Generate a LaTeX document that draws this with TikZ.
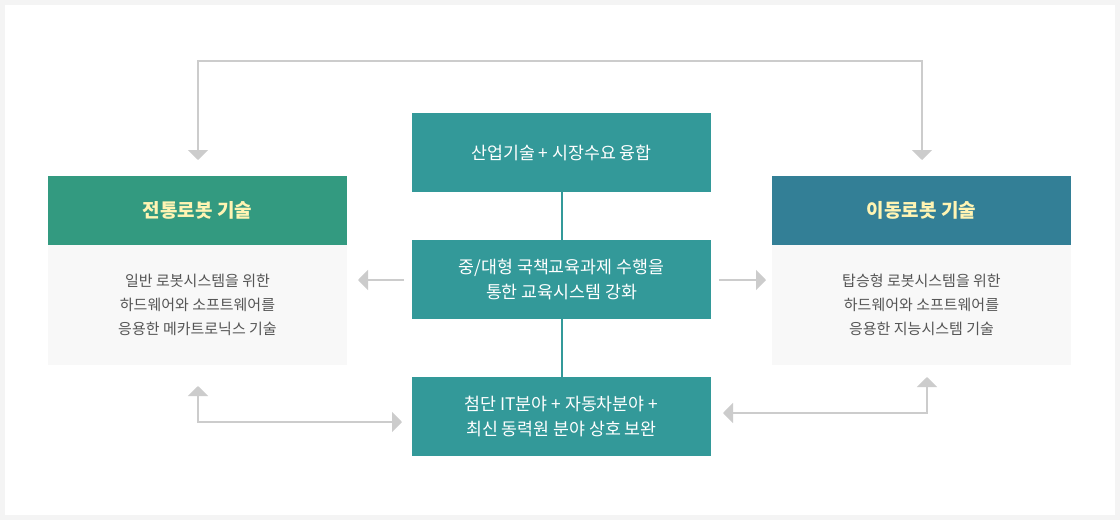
\documentclass[tikz,border=0pt]{standalone}
\usepackage{fontspec}
\setmainfont{Noto Sans CJK KR}
\usetikzlibrary{arrows.meta}
\definecolor{pagegray}{HTML}{F4F4F4}
\definecolor{hdgreen}{HTML}{339A80}
\definecolor{hdblue}{HTML}{337F96}
\definecolor{ctteal}{HTML}{339999}
\definecolor{bodybg}{HTML}{F8F8F8}
\definecolor{bodytxt}{HTML}{555555}
\definecolor{hdtxt}{HTML}{FFF4B3}
\definecolor{arrgray}{HTML}{CCCCCC}
\tikzset{
  hdbox/.style={minimum width=299pt, minimum height=69pt, inner sep=0pt, text=hdtxt,
    font=\fontsize{19}{22}\selectfont\bfseries},
  bodybox/.style={fill=bodybg, minimum width=299pt, minimum height=120pt, inner sep=0pt,
    text=bodytxt, align=center, font=\fontsize{15}{24}\selectfont},
  ctbox/.style={fill=ctteal, minimum width=299pt, minimum height=79pt, inner sep=0pt,
    text=white, align=center, font=\fontsize{17.3}{25}\selectfont},
  arr/.style={draw=arrgray, line width=2pt, {Triangle[width=20pt,length=10pt]}-{Triangle[width=20pt,length=10pt]}},
  arrone/.style={draw=arrgray, line width=2pt, -{Triangle[width=20pt,length=10pt]}},
  tline/.style={draw=ctteal, line width=2pt}
}
\begin{document}
\begin{tikzpicture}[x=1pt,y=-1pt]
\fill[pagegray] (0,0) rectangle (1120,520);
\fill[white] (5,5) rectangle (1115,515);
\useasboundingbox (0,0) rectangle (1120,520);

% left column
\node[hdbox, fill=hdgreen] (lh) at (197.5,210.5) {전통로봇 기술};
\node[bodybox] (lb) at (197.5,305) {일반 로봇시스템을 위한\\하드웨어와 소프트웨어를\\응용한 메카트로닉스 기술};
% right column
\node[hdbox, fill=hdblue] (rh) at (921.5,210.5) {이동로봇 기술};
\node[bodybox] (rb) at (921.5,305) {탑승형 로봇시스템을 위한\\하드웨어와 소프트웨어를\\응용한 지능시스템 기술};
% center
\node[ctbox] (c1) at (561.5,152.5) {산업기술 + 시장수요 융합};
\node[ctbox] (c2) at (561.5,279.5) {중/대형 국책교육과제 수행을\\통한 교육시스템 강화};
\node[ctbox] (c3) at (561.5,416.5) {첨단 IT분야 + 자동차분야 +\\최신 동력원 분야 상호 보완};

\draw[tline] (c1.south) -- (c2.north);
\draw[tline] (c2.south) -- (c3.north);

% connectors
\coordinate (tl) at (198,160);
\coordinate (tr) at (922,160);
\draw[arr] (tl) -- (198,61) -- (922,61) -- (tr);

\coordinate (ml) at (358,280);
\coordinate (ms) at (404,280);
\draw[arrone] (ms) -- (ml);
\coordinate (mrs) at (719,280);
\coordinate (mr) at (766,280);
\draw[arrone] (mrs) -- (mr);

\coordinate (bl) at (198,386);
\coordinate (bc) at (402,422);
\draw[arr] (bl) |- (bc);
\coordinate (br) at (927,377);
\coordinate (bc2) at (723,413);
\draw[arr] (bc2) -| (br);
\end{tikzpicture}
\end{document}
